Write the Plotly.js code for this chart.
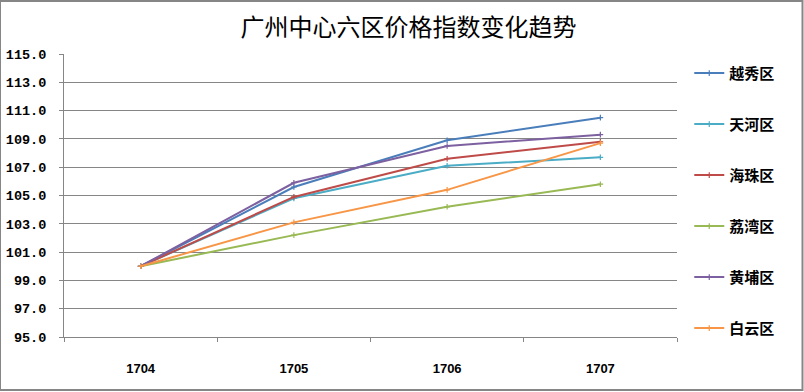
<!DOCTYPE html>
<html>
<head>
<meta charset="utf-8">
<script src="https://cdn.plot.ly/plotly-3.0.1.min.js"></script>
<style>
  html, body { margin: 0; padding: 0; background: #fff; }
  #chart { width: 804px; height: 392px; }
</style>
</head>
<body>
<div id="chart"></div>
<script>
const categories = ["1704", "1705", "1706", "1707"];
const seriesNames = ["越秀区", "天河区", "海珠区", "荔湾区", "黄埔区", "白云区"];
const yuexiu  = [100.0, 105.6, 108.9, 110.5];
const tianhe  = [100.0, 104.8, 107.1, 107.7];
const haizhu  = [100.0, 104.9, 107.6, 108.8];
const liwan   = [100.0, 102.2, 104.2, 105.8];
const huangpu = [100.0, 105.9, 108.5, 109.3];
const baiyun  = [100.0, 103.1, 105.4, 108.7];
const colors = ["#4A7EBB", "#4BACC6", "#BE4B48", "#98B954", "#7D60A0", "#F79646"];

const allValues = [yuexiu, tianhe, haizhu, liwan, huangpu, baiyun];

const traces = allValues.map((vals, i) => ({
  type: "scatter",
  mode: "lines+markers",
  name: seriesNames[i],
  legendgroup: "g" + i,
  x: categories,
  y: vals,
  line: { color: colors[i], width: 2 },
  marker: { symbol: "cross-thin", size: 4, color: colors[i], line: { color: colors[i], width: 1.2 } }
}));

const layout = {
  width: 804,
  height: 392,
  margin: { l: 64, r: 127, t: 54, b: 55, pad: 0 },
  paper_bgcolor: "#ffffff",
  plot_bgcolor: "#ffffff",
  showlegend: true,
  title: {
    text: "广州中心六区价格指数变化趋势",
    font: { family: "Noto Sans CJK SC", size: 24, color: "#000000" },
    x: 0.508, xanchor: "center",
    y: 0.93, yanchor: "middle"
  },
  xaxis: {
    type: "category",
    range: [-0.5, 3.5],
    showgrid: false,
    showline: true,
    linecolor: "#868686",
    linewidth: 1,
    ticks: "outside",
    tickson: "boundaries",
    ticklen: 4,
    tickcolor: "#868686",
    ticklabelstandoff: 19,
    tickfont: { family: "Liberation Sans", size: 13, color: "#000000", weight: "bold" },
    zeroline: false,
    fixedrange: true
  },
  yaxis: {
    range: [95, 115],
    dtick: 2,
    tick0: 95,
    tickformat: ".1f",
    showgrid: true,
    gridcolor: "#868686",
    gridwidth: 1,
    showline: true,
    linecolor: "#868686",
    linewidth: 1,
    ticks: "outside",
    ticklen: 4,
    tickcolor: "#868686",
    ticklabelstandoff: 10,
    tickfont: { family: "Liberation Mono", size: 13.5, color: "#000000", weight: "bold" },
    zeroline: false,
    fixedrange: true
  },
  legend: {
    x: 1.02, xanchor: "left",
    y: 0.99, yanchor: "top",
    traceorder: "grouped",
    tracegroupgap: 28.5,
    itemwidth: 30,
    font: { family: "Noto Sans CJK SC", size: 15, color: "#000000", weight: "bold" },
    bgcolor: "rgba(0,0,0,0)"
  },
  shapes: [{
    type: "rect", xref: "paper", yref: "paper",
    x0: -64/613, x1: (804-64-1.5)/613,
    y0: -(55-2)/283, y1: (283+54-1)/283,
    line: { color: "#868686", width: 2 },
    fillcolor: "rgba(0,0,0,0)"
  }]
};

Plotly.newPlot("chart", traces, layout, { displayModeBar: false, staticPlot: true });
</script>
</body>
</html>
